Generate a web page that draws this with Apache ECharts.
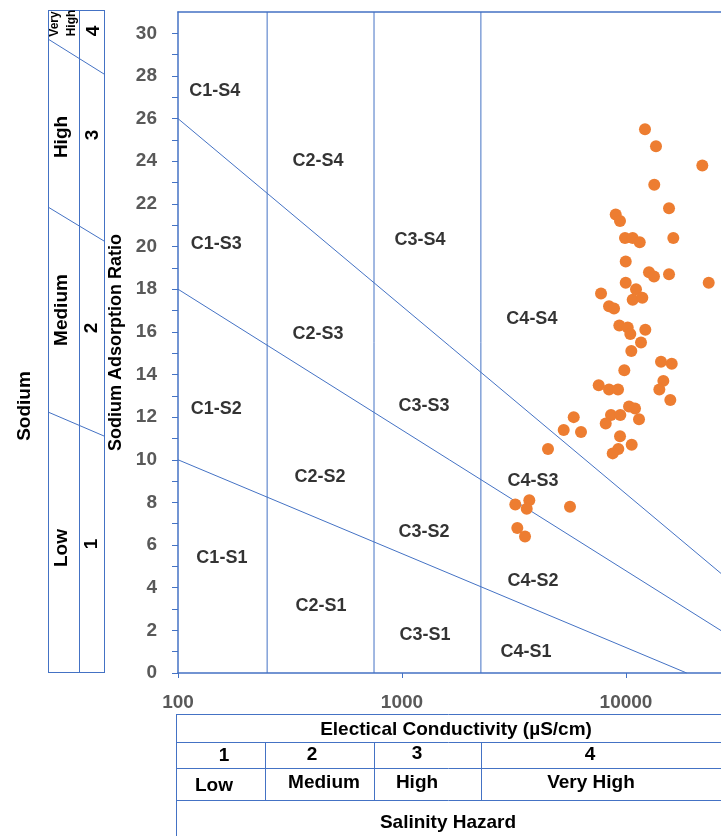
<!DOCTYPE html>
<html><head><meta charset="utf-8">
<script src="https://cdn.jsdelivr.net/npm/echarts@6/dist/echarts.min.js"></script>
<style>html,body{margin:0;padding:0;background:#fff}#c{width:721px;height:836px}</style>
</head><body><div id="c"></div>
<script>
// ---- data ----
const ecValues = [12155, 13610, 21910, 13370, 15560, 8995, 9403, 9897, 10712, 11514,
  16260, 9970, 12665, 13335, 15560, 23400, 9970, 11083, 7735, 10712,
  11825, 8398, 8842, 9335, 10177, 10452, 12195, 11667, 10560, 14330,
  16000, 9827, 14680, 14085, 15770, 7553, 8398, 9212, 10314, 10970,
  8570, 9432, 11430, 8118, 9403, 10602, 9240, 8722, 5842, 5270,
  6297, 4485, 3205, 3701, 3604, 5623, 3271, 3541];
const sarValues = [25.5, 24.7, 23.8, 22.9, 21.8, 21.5, 21.2, 20.4, 20.4, 20.2,
  20.4, 19.3, 18.8, 18.6, 18.7, 18.3, 18.3, 18.0, 17.8, 17.5,
  17.6, 17.2, 17.1, 16.3, 16.2, 15.9, 16.1, 15.5, 15.1, 14.6,
  14.5, 14.2, 13.7, 13.3, 12.8, 13.5, 13.3, 13.3, 12.5, 12.4,
  12.1, 12.1, 11.9, 11.7, 11.1, 10.7, 10.5, 10.3, 12.0, 11.4,
  11.3, 10.5, 7.9, 8.1, 7.7, 7.8, 6.8, 6.4];

// salinity class boundaries (EC, µS/cm)
const ecBounds = [250, 750, 2250];
// sodium hazard boundary lines: [EC, SAR] start and end
const sarLineStartEC = [100, 100, 100];
const sarLineStartSAR = [26, 18, 10];
const sarLineEndEC = [26550, 26550, 18660];
const sarLineEndSAR = [4.67, 1.99, 0];

// region labels
const regionNames = ['C1-S4','C1-S3','C1-S2','C1-S1','C2-S4','C2-S3','C2-S2','C2-S1',
  'C3-S4','C3-S3','C3-S2','C3-S1','C4-S4','C4-S3','C4-S2','C4-S1'];
const regionEC = [146, 148, 148, 157, 422, 422, 431, 435, 1202, 1253, 1253, 1267, 3800, 3845, 3845, 3580];
const regionSAR = [27.3, 20.1, 12.4, 5.4, 24.0, 15.9, 9.2, 3.15, 20.3, 12.5, 6.6, 1.8, 16.6, 9.0, 4.3, 1.0];

// axis settings
const xMin = 100, xMax = 26550;
const yMin = 0, yMax = 31;
const yLabelStep = 2;

// table texts
const salinityClasses = ['1', '2', '3', '4'];
const salinityNames = ['Low', 'Medium', 'High', 'Very High'];
const sodiumClasses = ['1', '2', '3', '4'];
const sodiumNames = ['Low', 'Medium', 'High'];

// ---- chart ----
const FONT = "'Liberation Sans', Arial, sans-serif";
const BLUE = '#4472C4';
const chart = echarts.init(document.getElementById('c'), null, {renderer: 'canvas'});

const series = [];
ecBounds.forEach(function (v) {
  series.push({type: 'line', data: [[v, yMin], [v, yMax]], showSymbol: false, silent: true,
    lineStyle: {color: BLUE, width: 1}, z: 1, animation: false});
});
for (let i = 0; i < sarLineStartEC.length; i++) {
  series.push({type: 'line', data: [[sarLineStartEC[i], sarLineStartSAR[i]], [sarLineEndEC[i], sarLineEndSAR[i]]],
    showSymbol: false, silent: true, lineStyle: {color: BLUE, width: 1}, z: 1, animation: false});
}
series.push({
  type: 'scatter', data: ecValues.map(function (v, i) { return [v, sarValues[i]]; }),
  symbolSize: 12, itemStyle: {color: '#ED7D31', opacity: 1}, z: 3, animation: false
});
series.push({
  type: 'scatter', silent: true, symbolSize: 0, z: 4, animation: false,
  data: regionNames.map(function (n, i) { return {name: n, value: [regionEC[i], regionSAR[i]]}; }),
  label: {show: true, position: 'inside', formatter: '{b}', color: '#000', fontWeight: 'bold', fontSize: 18, fontFamily: FONT}
});

function hline(x1, x2, y) { return {type: 'line', silent: true, shape: {x1: x1, y1: y, x2: x2, y2: y}, style: {stroke: BLUE, lineWidth: 1}}; }
function vline(x, y1, y2) { return {type: 'line', silent: true, shape: {x1: x, y1: y1, x2: x, y2: y2}, style: {stroke: BLUE, lineWidth: 1}}; }
function sline(x1, y1, x2, y2) { return {type: 'line', silent: true, shape: {x1: x1, y1: y1, x2: x2, y2: y2}, style: {stroke: BLUE, lineWidth: 1}}; }
function txt(t, x, y, size, rot) {
  return {type: 'text', silent: true, x: x, y: y, rotation: rot || 0,
    style: {text: t, fill: '#000', font: 'bold ' + size + 'px ' + FONT, textAlign: 'center', textVerticalAlign: 'middle', align: 'center', verticalAlign: 'middle'}};
}
const R = Math.PI / 2;
const graphics = [
  // sodium panel
  vline(48.5, 10, 672), vline(79.5, 10, 672), vline(104.5, 10, 672),
  hline(48, 105, 10.5), hline(48, 105, 672.5),
  sline(48, 39, 104, 74), sline(48, 207, 104, 241), sline(48, 412, 104, 436),
  txt('Very', 55, 24, 12, R), txt('High', 72, 23, 12, R),
  txt(sodiumNames[2], 62, 137, 19, R), txt(sodiumNames[1], 62, 310, 19, R), txt(sodiumNames[0], 62, 548, 19, R),
  txt(sodiumClasses[3], 94, 31, 19, R), txt(sodiumClasses[2], 93, 135, 19, R), txt(sodiumClasses[1], 92, 328, 19, R), txt(sodiumClasses[0], 92, 544, 19, R),
  txt('Sodium', 25, 406, 19, R),
  // salinity table
  hline(176, 721, 714.5), hline(176, 721, 742.5), hline(176, 721, 768.5), hline(176, 721, 800.5),
  vline(176.5, 714, 836), vline(265.5, 742, 800), vline(374.5, 742, 800), vline(481.5, 742, 800),
  txt('Electical Conductivity (µS/cm)', 456, 730, 19),
  txt(salinityClasses[0], 224, 756, 19), txt(salinityClasses[1], 312, 755, 19), txt(salinityClasses[2], 417, 754, 19), txt(salinityClasses[3], 590, 755, 19),
  txt(salinityNames[0], 214, 786, 19), txt(salinityNames[1], 324, 783, 19), txt(salinityNames[2], 417, 783, 19), txt(salinityNames[3], 591, 783, 19),
  txt('Salinity Hazard', 448, 823, 19)
];

chart.setOption({
  animation: false,
  backgroundColor: '#fff',
  grid: {left: 178, top: 12, right: 0, bottom: 163, containLabel: false},
  xAxis: [{
    type: 'log', logBase: 10, min: xMin, max: xMax,
    axisLine: {show: true, lineStyle: {color: BLUE, width: 1.5}},
    axisTick: {show: true, length: 5, lineStyle: {color: BLUE}},
    axisLabel: {show: true, margin: 20, color: '#595959', fontWeight: 'bold', fontSize: 19, fontFamily: FONT,
      showMaxLabel: false, formatter: function (v) { return String(Math.round(v)); }},
    splitLine: {show: false}, minorTick: {show: false}
  }, {
    type: 'log', logBase: 10, min: xMin, max: xMax, position: 'top',
    axisLine: {show: true, lineStyle: {color: BLUE, width: 1.5}},
    axisTick: {show: false}, axisLabel: {show: false}, splitLine: {show: false}
  }],
  yAxis: {
    type: 'value', min: yMin, max: yMax, interval: 1,
    name: 'Sodium Adsorption Ratio', nameLocation: 'middle', nameGap: 45, nameRotate: 90,
    nameTextStyle: {color: '#000', fontWeight: 'bold', fontSize: 18, fontFamily: FONT},
    axisLine: {show: true, lineStyle: {color: BLUE, width: 1.5}},
    axisTick: {show: true, length: 6, lineStyle: {color: BLUE}},
    axisLabel: {margin: 21, color: '#595959', fontWeight: 'bold', fontSize: 19, fontFamily: FONT,
      showMaxLabel: false,
      formatter: function (v) { return (v % yLabelStep === 0) ? String(v) : ''; }},
    splitLine: {show: false}
  },
  series: series,
  graphic: {elements: graphics}
});
</script>
</body></html>
